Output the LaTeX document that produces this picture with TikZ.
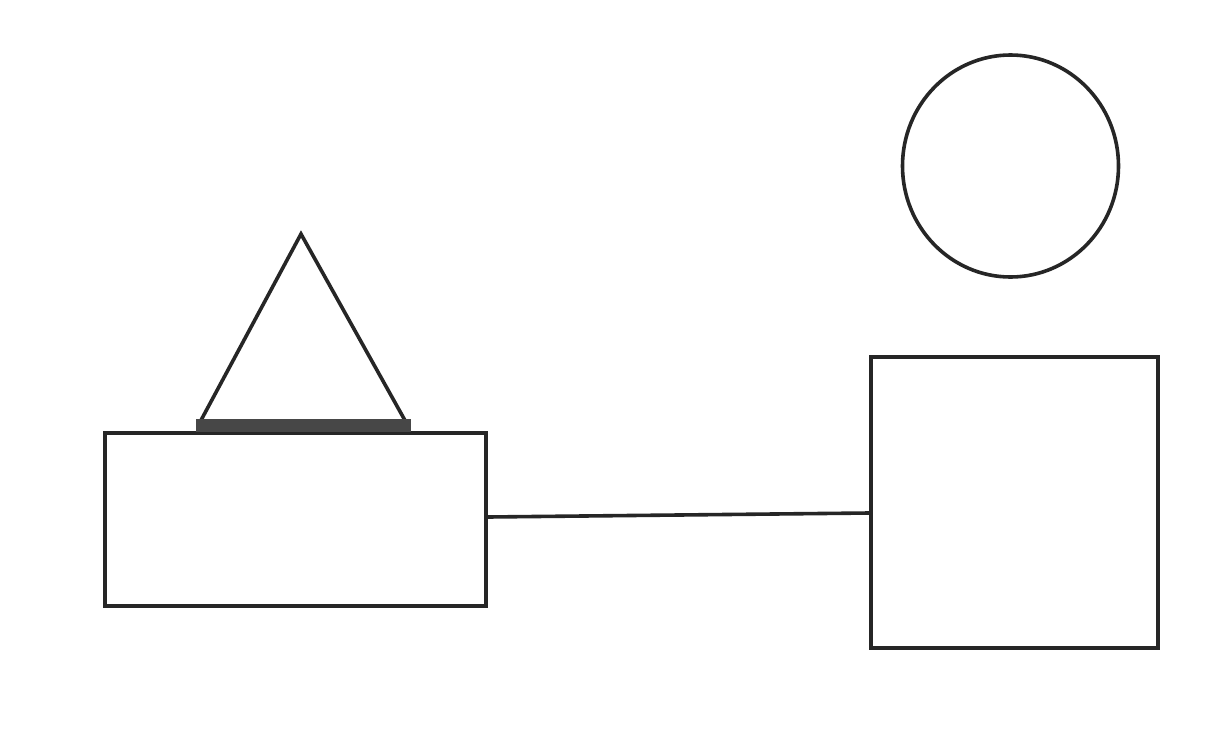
\documentclass[tikz,border=0pt]{standalone}
\usetikzlibrary{shapes.geometric}
\begin{document}
\begin{tikzpicture}[x=1pt,y=-1pt,
  outline/.style={draw=black!85,line width=3.6pt},
]
\useasboundingbox[fill=white] (0,0) rectangle (1216,745);
% left rectangle
\node[outline,rectangle,inner sep=0pt,minimum width=381pt,minimum height=173pt] (rect) at (295.5,519.5) {};
% right square
\node[outline,rectangle,inner sep=0pt,minimum width=287pt,minimum height=291pt] (sq) at (1014.5,502.5) {};
% circle
\node[outline,ellipse,inner sep=0pt,minimum width=216pt,minimum height=222pt] (circ) at (1010.5,166) {};
% triangle
\coordinate (apex) at (301,234);
\coordinate (bl) at (199,424);
\coordinate (br) at (407,424);
\draw[outline,line join=miter] (bl) -- (apex) -- (br);
% dark band under triangle
\fill[black!72] (196,419) rectangle (411,432);
% connector
\draw[outline] ([yshift=2.5pt]rect.east) -- ([yshift=-10.5pt]sq.west);
\end{tikzpicture}
\end{document}
